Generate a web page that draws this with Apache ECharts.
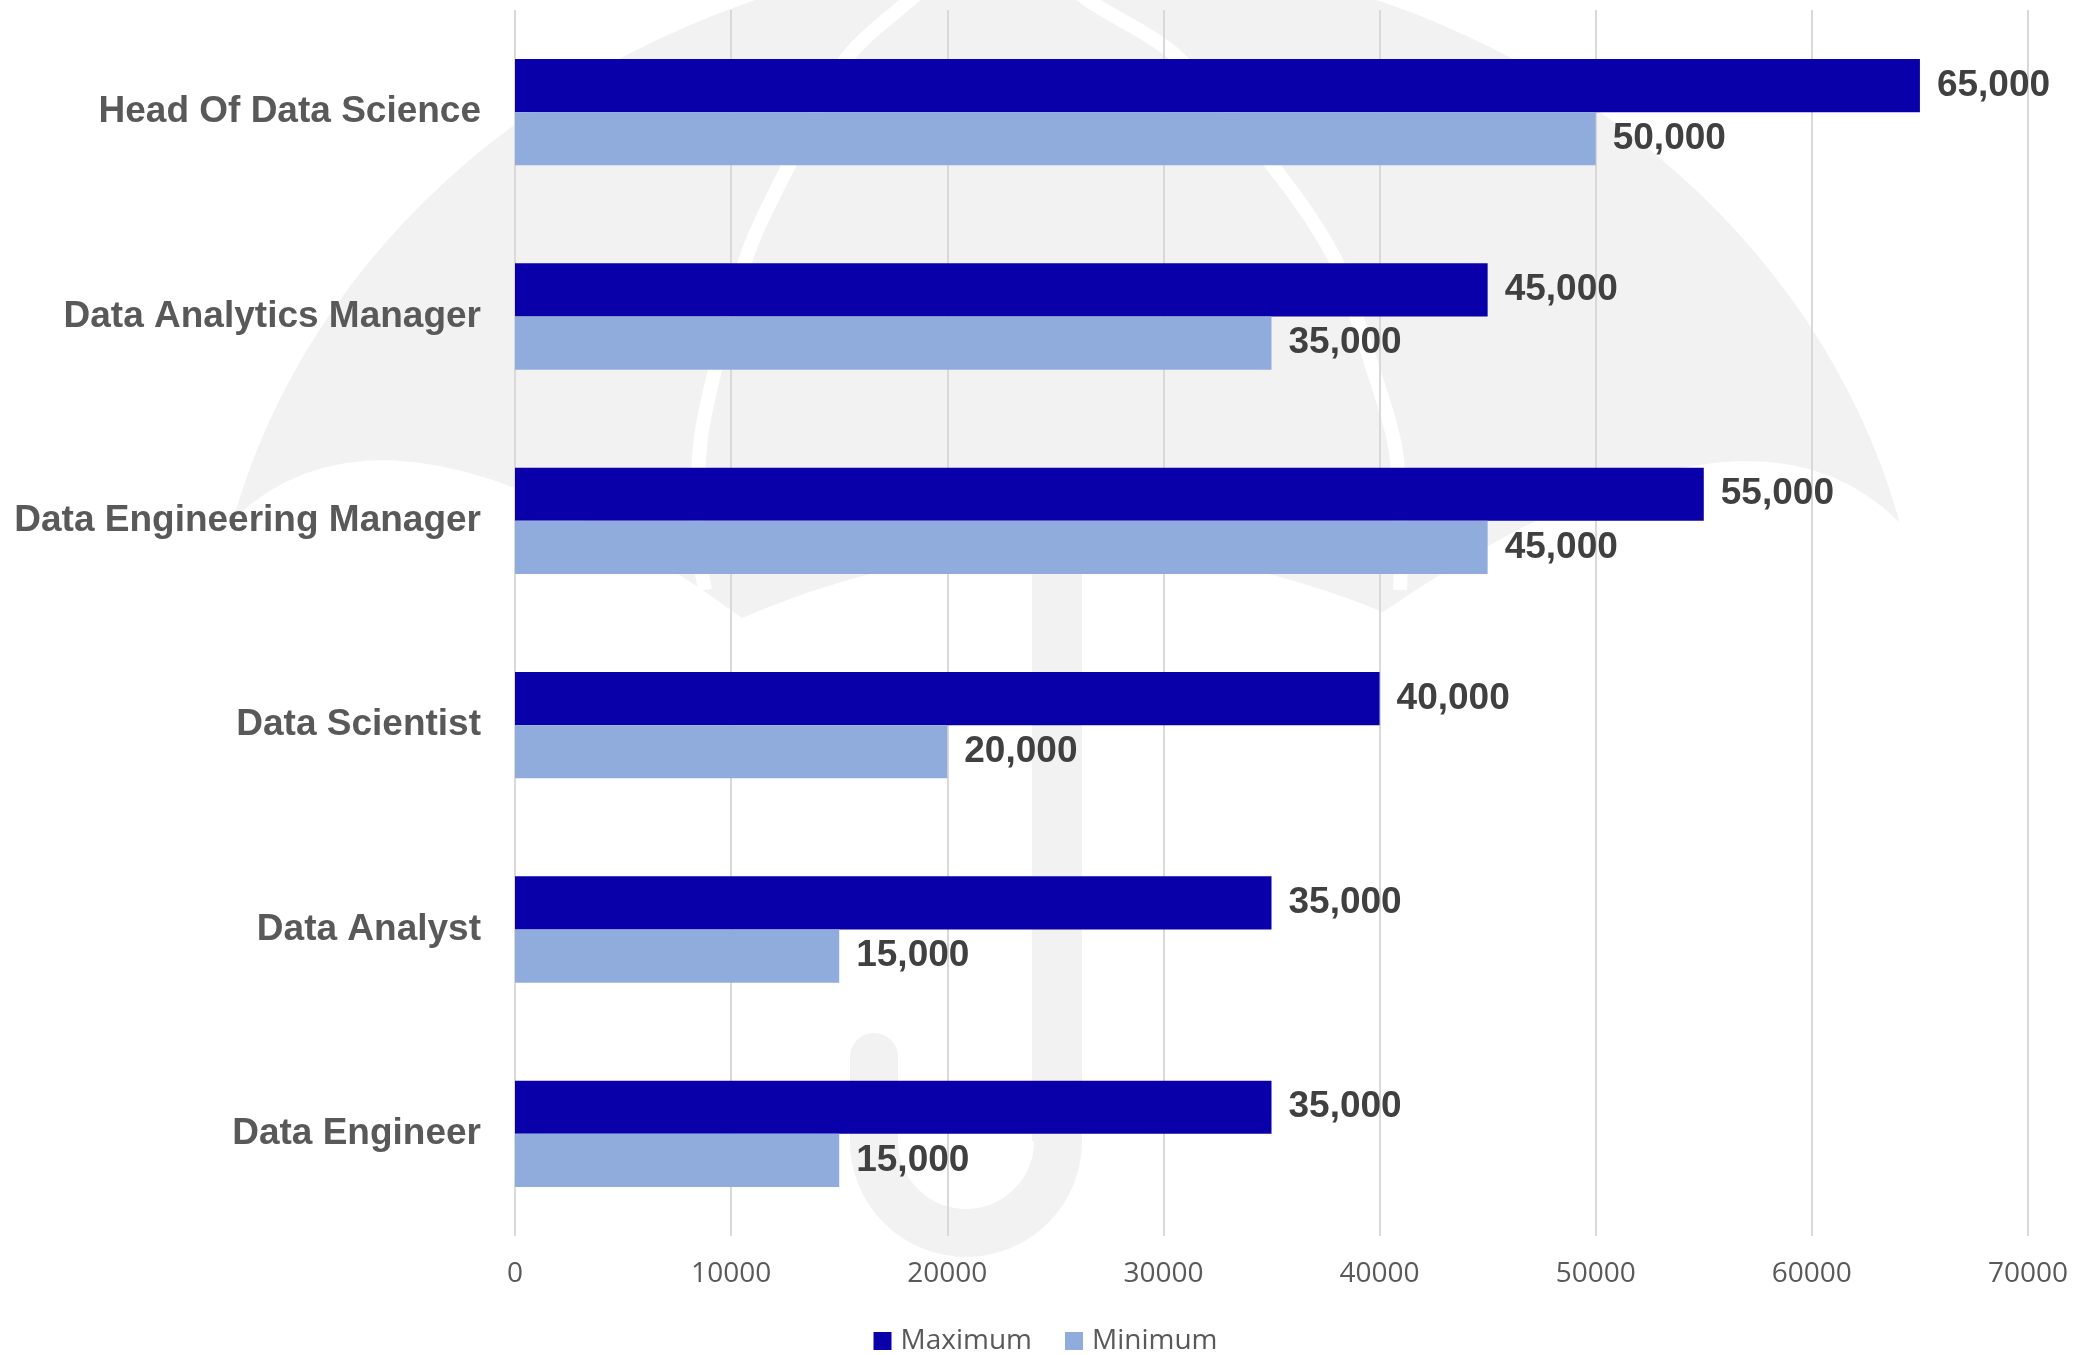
<!DOCTYPE html>
<html>
<head>
<meta charset="utf-8">
<script src="https://cdn.jsdelivr.net/npm/echarts@6/dist/echarts.min.js"></script>
<style>
  html, body { margin: 0; padding: 0; background: #fff; }
  #chart { width: 2091px; height: 1355px; }
</style>
</head>
<body>
<div id="chart"></div>
<script>
const categories = ['Head Of Data Science', 'Data Analytics Manager', 'Data Engineering Manager', 'Data Scientist', 'Data Analyst', 'Data Engineer'];
const maximum = [65000, 45000, 55000, 40000, 35000, 35000];
const minimum = [50000, 35000, 45000, 20000, 15000, 15000];
const seriesNames = ['Maximum', 'Minimum'];
const xMin = 0;
const xMax = 70000;
const xStep = 10000;

const WM = '#f2f2f2';

// watermark umbrella, background decoration only
function quad(a, p, b, n) {
    const c = [2 * p[0] - (a[0] + b[0]) / 2, 2 * p[1] - (a[1] + b[1]) / 2];
    const pts = [];
    for (let i = 1; i <= n; i++) {
        const t = i / n, u = 1 - t;
        pts.push([u * u * a[0] + 2 * u * t * c[0] + t * t * b[0], u * u * a[1] + 2 * u * t * c[1] + t * t * b[1]]);
    }
    return pts;
}

function canopy() {
    const cx = 1066, cy = 700, a = 858, b = 751;
    const pts = [];
    for (let d = 166.2; d >= 13.8; d -= 2) {
        const r = d * Math.PI / 180;
        pts.push([cx + a * Math.cos(r), cy - b * Math.sin(r)]);
    }
    const rightTip = [1899, 522];
    pts.push(rightTip);
    return pts
        .concat(quad(rightTip, [1692, 466], [1383, 612], 20))
        .concat(quad([1383, 612], [1062, 548], [742, 618], 24))
        .concat(quad([742, 618], [440, 466], [233, 520], 20));
}

const ribStyle = { stroke: '#fff', lineWidth: 14, fill: null };

const watermark = [
    { type: 'polygon', z: -100, silent: true, shape: { points: canopy() }, style: { fill: WM } },
    { type: 'polyline', z: -99, silent: true, shape: { points: [[960, -40], [910, 0], [847, 58], [789, 165], [749, 250], [715, 370], [700, 446], [698, 540], [705, 590]], smooth: 0.3 }, style: ribStyle },
    { type: 'polyline', z: -99, silent: true, shape: { points: [[1040, -40], [1088, 0], [1174, 54], [1272, 165], [1335, 259], [1369, 357], [1395, 446], [1401, 540], [1400, 590]], smooth: 0.3 }, style: ribStyle },
    { type: 'line', z: -100, silent: true, shape: { x1: 1057, y1: 540, x2: 1057, y2: 1141 }, style: { stroke: WM, lineWidth: 50 } },
    { type: 'arc', z: -100, silent: true, shape: { cx: 966, cy: 1141, r: 92, startAngle: 0, endAngle: Math.PI }, style: { stroke: WM, lineWidth: 48, fill: null } },
    { type: 'line', z: -100, silent: true, shape: { x1: 874, y1: 1141, x2: 874, y2: 1057 }, style: { stroke: WM, lineWidth: 48, lineCap: 'round' } }
];

const chart = echarts.init(document.getElementById('chart'));

const valueLabel = {
    show: true,
    position: 'right',
    distance: 17,
    fontFamily: 'Liberation Sans, Arial, sans-serif',
    fontSize: 37,
    fontWeight: 'bold',
    color: '#404040',
    formatter: p => p.value.toLocaleString('en-US')
};

chart.setOption({
    animation: false,
    backgroundColor: '#fff',
    graphic: watermark,
    grid: { left: 515, right: 63, top: 10, bottom: 119, containLabel: false },
    legend: {
        data: seriesNames,
        left: 'center',
        top: 1322,
        icon: 'rect',
        itemWidth: 18,
        itemHeight: 18,
        itemGap: 33,
        textStyle: { fontFamily: 'Open Sans', fontSize: 28, color: '#595959', padding: [0, 0, 0, 4] }
    },
    xAxis: {
        type: 'value',
        min: xMin,
        max: xMax,
        interval: xStep,
        axisLine: { show: false },
        axisTick: { show: false },
        axisLabel: { fontFamily: 'Open Sans', fontSize: 28, color: '#595959', margin: 24, formatter: v => String(v) },
        splitLine: { show: true, lineStyle: { color: '#d9d9d9', width: 2 } }
    },
    yAxis: {
        type: 'category',
        inverse: true,
        data: categories,
        axisLine: { show: false },
        axisTick: { show: false },
        axisLabel: {
            fontFamily: 'Liberation Sans, Arial, sans-serif',
            fontSize: 37,
            fontWeight: 'bold',
            color: '#595959',
            margin: 34
        }
    },
    series: [
        {
            name: seriesNames[0],
            type: 'bar',
            data: maximum,
            barWidth: '26%',
            barGap: '0%',
            itemStyle: { color: '#0a00aa' },
            label: valueLabel
        },
        {
            name: seriesNames[1],
            type: 'bar',
            data: minimum,
            barWidth: '26%',
            barGap: '0%',
            itemStyle: { color: '#8facdc' },
            label: valueLabel
        }
    ]
});
</script>
</body>
</html>
